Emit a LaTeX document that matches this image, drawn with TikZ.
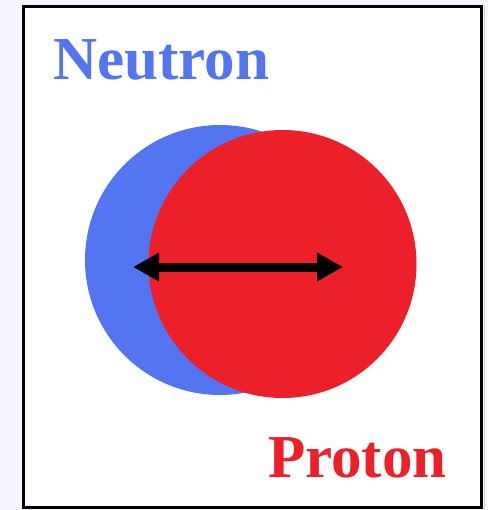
\documentclass[tikz,border=0pt]{standalone}
\usepackage{fontspec}
\setmainfont{Liberation Serif}
\usetikzlibrary{arrows.meta}
\definecolor{nblue}{RGB}{84,117,242}
\definecolor{pred}{RGB}{237,32,41}
\definecolor{bgc}{RGB}{244,245,253}
\tikzset{
  lbl/.style={anchor=base west, inner sep=0pt, font=\bfseries\fontsize{61}{61}\selectfont},
  frame/.style={draw=black, line width=3pt, fill=white},
}
\begin{document}
\begin{tikzpicture}[x=1pt,y=-1pt]
\useasboundingbox (0,0) rectangle (488,510);
\fill[bgc] (0,0) rectangle (488,510);
\draw[black!20, line width=1pt] (484.5,6) -- (484.5,510);
\draw[frame] (23.5,6.5) rectangle (481.5,507.5);
\fill[nblue] (220,260) circle (135);
\fill[pred] (282.5,264) circle (134);
\coordinate (al) at (133,267);
\coordinate (ar) at (343,267);
\draw[line width=9pt, {Triangle[length=26pt,width=27pt]}-{Triangle[length=26pt,width=27pt]}] (al) -- (ar);
\node[lbl, text=nblue] (neutron) at (53,80) {Neutron};
\node[lbl, text=pred] (proton) at (268,477) {Proton};
\end{tikzpicture}
\end{document}
